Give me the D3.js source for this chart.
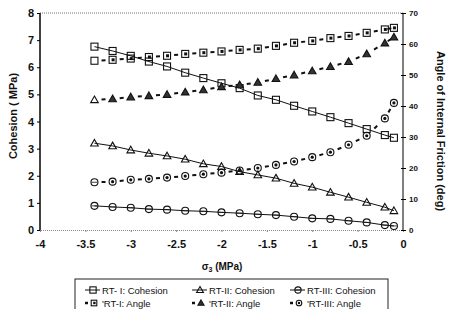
<!DOCTYPE html>
<html>
<head>
<meta charset="utf-8">
<script src="https://cdn.jsdelivr.net/npm/d3@7"></script>
<style>
  body { margin: 0; background: #fff; }
  text { font-family: Arial, "Liberation Sans", sans-serif; fill: #111; }
</style>
</head>
<body>
<script>
// sigma3 (MPa)
var sigma3 = [-3.4, -3.2, -3.0, -2.8, -2.6, -2.4, -2.2, -2.0, -1.8, -1.6, -1.4, -1.2, -1.0, -0.8, -0.6, -0.4, -0.2, -0.1];

// cohesion (MPa), left axis
var rt1Cohesion = [6.76, 6.60, 6.42, 6.21, 6.03, 5.80, 5.60, 5.41, 5.23, 4.96, 4.80, 4.58, 4.37, 4.16, 3.94, 3.72, 3.50, 3.40];
var rt2Cohesion = [3.20, 3.10, 2.95, 2.83, 2.73, 2.61, 2.44, 2.34, 2.15, 2.03, 1.91, 1.72, 1.58, 1.39, 1.21, 1.02, 0.84, 0.71];
var rt3Cohesion = [0.89, 0.85, 0.82, 0.77, 0.75, 0.71, 0.69, 0.65, 0.62, 0.58, 0.55, 0.49, 0.43, 0.41, 0.34, 0.28, 0.18, 0.15];

// angle of internal friction (deg), right axis
var rt1Angle = [54.6, 54.9, 55.3, 55.8, 56.2, 56.8, 57.2, 57.6, 58.1, 58.5, 59.4, 60.4, 61.0, 61.9, 62.6, 63.6, 64.7, 65.2];
var rt2Angle = [42.0, 42.3, 42.9, 43.3, 43.7, 44.5, 45.2, 46.2, 46.8, 47.6, 48.8, 50.0, 51.3, 52.7, 54.3, 56.8, 60.3, 62.2];
var rt3Angle = [15.4, 15.6, 16.2, 16.5, 16.9, 17.4, 18.0, 18.5, 19.2, 20.0, 21.0, 22.1, 23.5, 25.1, 27.5, 30.4, 36.0, 41.0];

var xTicks = [-4, -3.5, -3, -2.5, -2, -1.5, -1, -0.5, 0];
var yTicks = [0, 1, 2, 3, 4, 5, 6, 7, 8];
var y2Ticks = [0, 10, 20, 30, 40, 50, 60, 70];

var W = 455, H = 309;
var margin = {left: 40, right: 52, top: 13, bottom: 79};

var svg = d3.select("body").append("svg")
    .attr("width", W)
    .attr("height", H);

var x = d3.scaleLinear().domain([-4, 0]).range([margin.left, W - margin.right]);
var y = d3.scaleLinear().domain([0, 8]).range([H - margin.bottom, margin.top]);
var y2 = d3.scaleLinear().domain([0, 70]).range([H - margin.bottom, margin.top]);

// dotted top border
svg.append("line")
    .attr("x1", x(-4)).attr("x2", x(0))
    .attr("y1", y(8)).attr("y2", y(8))
    .style("stroke", "#777").style("stroke-dasharray", "1,1");

var xAxis = d3.axisBottom(x).tickValues(xTicks).tickSize(2)
    .tickFormat(function (d) { return String(d); });
var gx = svg.append("g")
    .attr("transform", "translate(0," + y(0) + ")")
    .call(xAxis);
gx.select(".domain").style("stroke", "#888").style("stroke-dasharray", "1,1");
gx.selectAll(".tick line").style("stroke", "#888");
gx.selectAll("text")
    .attr("dy", "1.15em")
    .style("font-size", "11px").style("font-weight", "bold");

var yAxis = d3.axisLeft(y).tickValues(yTicks).tickSize(3);
var gy = svg.append("g")
    .attr("transform", "translate(" + x(-4) + ",0)")
    .call(yAxis);
gy.select(".domain").attr("d", "M0," + y(8) + "V" + y(0)).style("stroke", "#000").style("stroke-width", 1.5);
gy.selectAll("text").attr("x", -6).style("font-size", "11px").style("font-weight", "bold");

var y2Axis = d3.axisRight(y2).tickValues(y2Ticks).tickSize(3);
var gy2 = svg.append("g")
    .attr("transform", "translate(" + x(0) + ",0)")
    .call(y2Axis);
gy2.select(".domain").attr("d", "M0," + y2(70) + "V" + y2(0)).style("stroke", "#000");
gy2.selectAll(".tick line").attr("x1", -2);
gy2.selectAll("text").attr("x", 6).style("font-size", "8px").style("font-weight", "bold");

// axis titles
svg.append("text")
    .attr("transform", "translate(17,116) rotate(-90)")
    .attr("text-anchor", "middle")
    .style("font-size", "11px").style("font-weight", "bold")
    .text("Cohesion ( MPa)");

svg.append("text")
    .attr("transform", "translate(437,131) rotate(90)")
    .attr("text-anchor", "middle")
    .style("font-size", "11px").style("font-weight", "bold")
    .text("Angle of Internal Friction (deg)");

var xt = svg.append("text")
    .attr("x", 222).attr("y", 270)
    .attr("text-anchor", "middle")
    .style("font-size", "10px").style("font-weight", "bold");
xt.append("tspan").text("σ");
xt.append("tspan").attr("dy", 2).style("font-size", "7px").text("3");
xt.append("tspan").attr("dy", -2).text(" (MPa)");

// marker drawing, k scales the size
function marker(g, type, cx, cy, filled, k) {
    k = k || 1;
    if (type === "square") {
        var h = 3.5 * k;
        g.append("rect").attr("x", cx - h).attr("y", cy - h).attr("width", 2 * h).attr("height", 2 * h)
            .style("fill", "none").style("stroke", "#111").style("stroke-width", 1.1);
        if (filled) g.append("rect").attr("x", cx - 1 * k).attr("y", cy - 1.5 * k).attr("width", 3 * k).attr("height", 3 * k).style("fill", "#111");
    } else if (type === "triangle") {
        var s = 3.8 * k;
        g.append("path")
            .attr("d", "M" + cx + "," + (cy - s) + "L" + (cx + s) + "," + (cy + s * 0.75) + "L" + (cx - s) + "," + (cy + s * 0.75) + "Z")
            .style("fill", filled ? "#333" : "none").style("stroke", "#111").style("stroke-width", 1.1);
    } else {
        g.append("circle").attr("cx", cx).attr("cy", cy).attr("r", 3.5 * k)
            .style("fill", "none").style("stroke", "#111").style("stroke-width", 1.1);
        if (filled) g.append("circle").attr("cx", cx).attr("cy", cy).attr("r", 1.6 * k).style("fill", "#111");
        else g.append("line").attr("x1", cx - 3 * k).attr("x2", cx + 3 * k).attr("y1", cy).attr("y2", cy).style("stroke", "#111").style("stroke-width", 0.8);
    }
}

function dashSegments(g, pts) {
    for (var i = 0; i < pts.length - 1; i++) {
        var a = pts[i], b = pts[i + 1];
        var dx = b[0] - a[0], dy = b[1] - a[1];
        var len = Math.sqrt(dx * dx + dy * dy);
        var gap = Math.max((len - 4) / 2, 0);
        g.append("line")
            .attr("x1", a[0]).attr("y1", a[1]).attr("x2", b[0]).attr("y2", b[1])
            .style("stroke", "#111").style("stroke-width", 2)
            .style("stroke-dasharray", "0," + gap + ",4," + (gap + 10));
    }
}

var line = d3.line();

var cohesion = [
    {vals: rt1Cohesion, type: "square"},
    {vals: rt2Cohesion, type: "triangle"},
    {vals: rt3Cohesion, type: "circle"}
];
var angles = [
    {vals: rt1Angle, type: "square"},
    {vals: rt2Angle, type: "triangle"},
    {vals: rt3Angle, type: "circle"}
];

cohesion.forEach(function (s) {
    var pts = s.vals.map(function (v, i) { return [x(sigma3[i]), y(v)]; });
    var g = svg.append("g");
    g.append("path").attr("d", line(pts)).style("fill", "none").style("stroke", "#111").style("stroke-width", 1);
    pts.forEach(function (p) { marker(g, s.type, p[0], p[1], false); });
});

angles.forEach(function (s) {
    var pts = s.vals.map(function (v, i) { return [x(sigma3[i]), y2(v)]; });
    var g = svg.append("g");
    dashSegments(g, pts);
    pts.forEach(function (p, i) { marker(g, s.type, p[0], p[1], i > 0); });
});

// legend
var leg = svg.append("g");
leg.append("rect")
    .attr("x", 75).attr("y", 279).attr("width", 313).attr("height", 40)
    .style("fill", "#fff").style("stroke", "#222").style("stroke-width", 1);

var legendItems = [
    {label: "RT- I: Cohesion", type: "square", angle: false, col: 0, row: 0},
    {label: "RT-II: Cohesion", type: "triangle", angle: false, col: 1, row: 0},
    {label: "RT-III: Cohesion", type: "circle", angle: false, col: 2, row: 0},
    {label: "'RT-I: Angle", type: "square", angle: true, col: 0, row: 1},
    {label: "'RT-II: Angle", type: "triangle", angle: true, col: 1, row: 1},
    {label: "'RT-III: Angle", type: "circle", angle: true, col: 2, row: 1}
];
var colX = [85, 192, 290];
var rowY = [290, 303];

legendItems.forEach(function (d) {
    var lx = colX[d.col], ly = rowY[d.row];
    if (!d.angle) {
        leg.append("line").attr("x1", lx).attr("x2", lx + 15).attr("y1", ly).attr("y2", ly)
            .style("stroke", "#111").style("stroke-width", 1);
        marker(leg, d.type, lx + 8, ly, false, 0.9);
    } else {
        leg.append("line").attr("x1", lx).attr("x2", lx + 3).attr("y1", ly).attr("y2", ly)
            .style("stroke", "#111").style("stroke-width", 2.5);
        marker(leg, d.type, lx + 9, ly, true, 0.8);
    }
    leg.append("text").attr("x", lx + 17).attr("y", ly + 3.5)
        .style("font-size", "9.5px")
        .text(d.label);
});
</script>
</body>
</html>
